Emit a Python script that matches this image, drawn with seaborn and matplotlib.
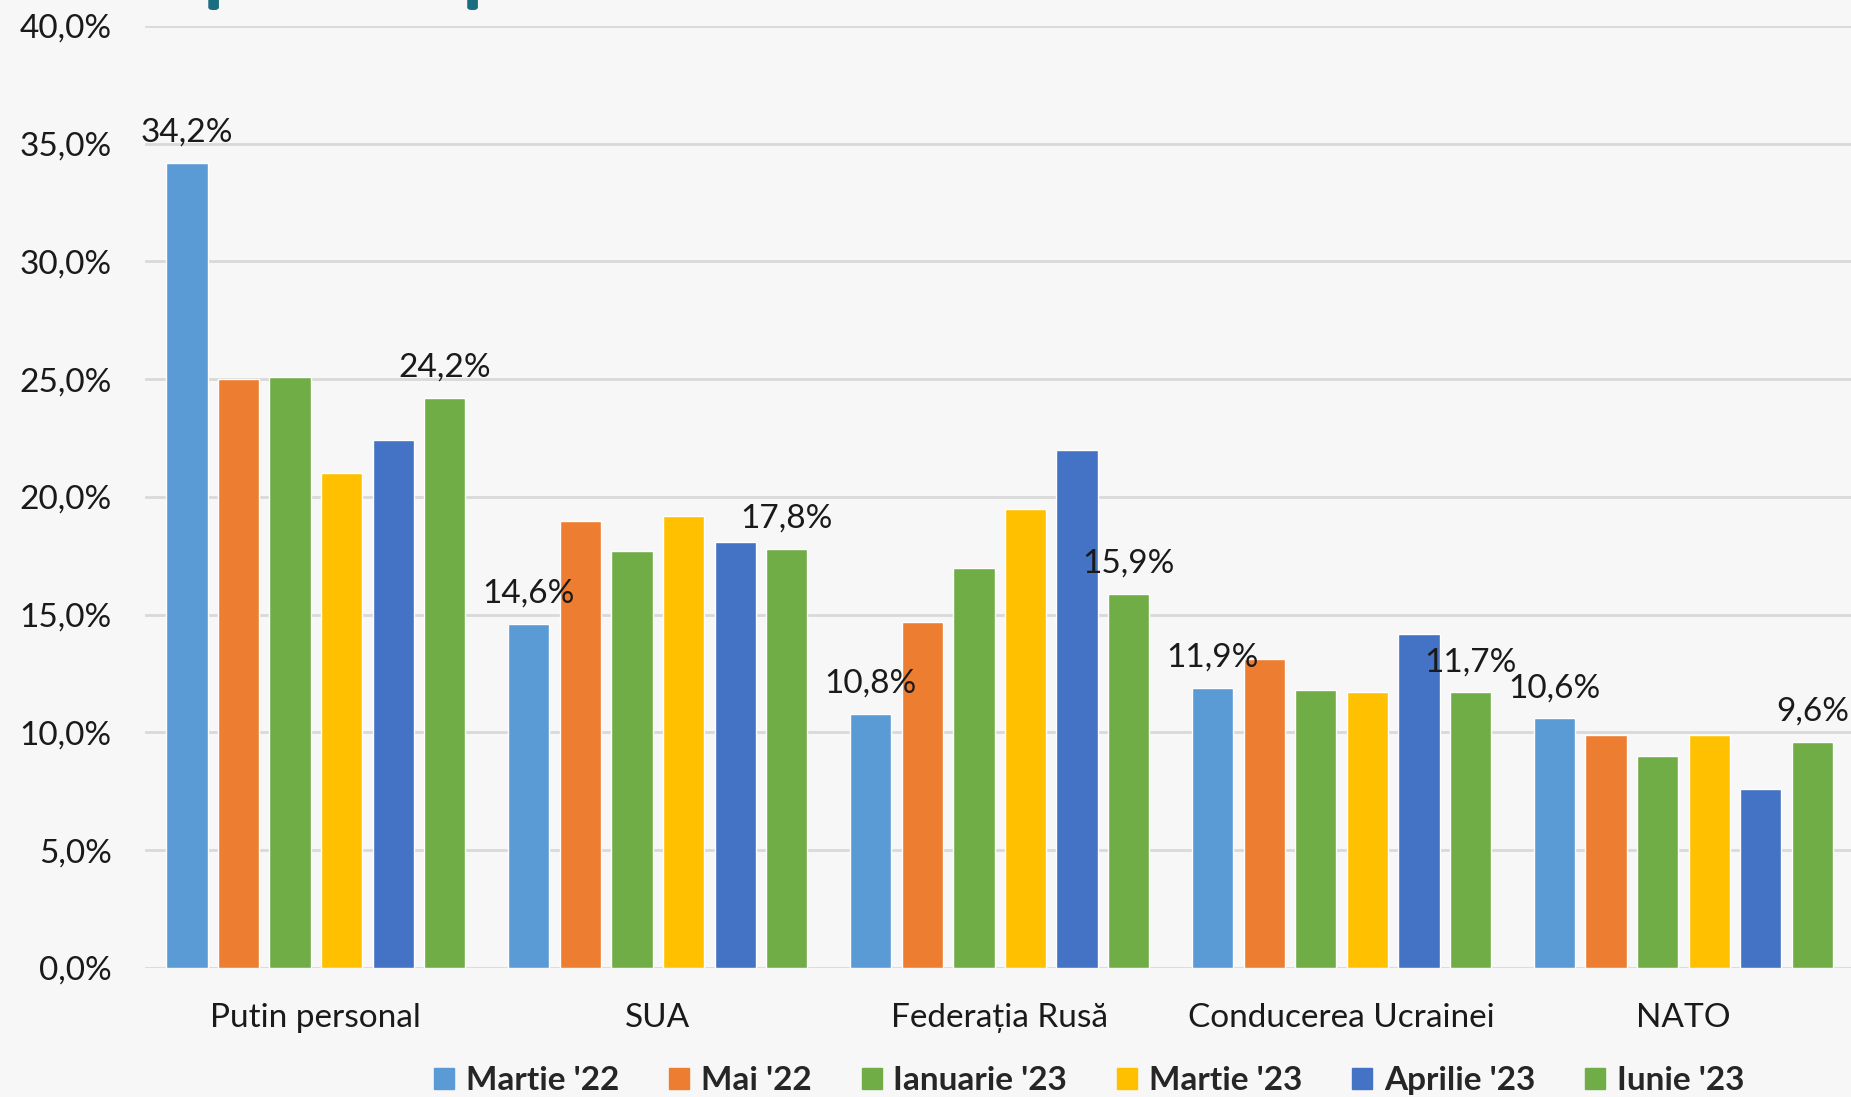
import matplotlib
matplotlib.use("Agg")
import matplotlib.pyplot as plt
import matplotlib.patches as mpatches
import pandas as pd
import seaborn as sns

# Data
categories = ["Putin personal", "SUA", "Federația Rusă", "Conducerea Ucrainei", "NATO"]
series = ["Martie '22", "Mai '22", "Ianuarie '23", "Martie '23", "Aprilie '23", "Iunie '23"]
martie_22 = [34.2, 14.6, 10.8, 11.9, 10.6]
mai_22 = [25.0, 19.0, 14.7, 13.1, 9.9]
ianuarie_23 = [25.1, 17.7, 17.0, 11.8, 9.0]
martie_23 = [21.0, 19.2, 19.5, 11.7, 9.9]
aprilie_23 = [22.4, 18.1, 22.0, 14.2, 7.6]
iunie_23 = [24.2, 17.8, 15.9, 11.7, 9.6]
colors = ["#5B9BD5", "#ED7D31", "#70AD47", "#FFC000", "#4472C4", "#70AD47"]
y_ticks = [0, 5, 10, 15, 20, 25, 30, 35, 40]

values = [martie_22, mai_22, ianuarie_23, martie_23, aprilie_23, iunie_23]
rows = []
for s, vals in zip(series, values):
    for c, v in zip(categories, vals):
        rows.append({"Categorie": c, "Perioada": s, "Valoare": v})
df = pd.DataFrame(rows)

sns.set_theme(style="white")
plt.rcParams["font.family"] = ["Lato", "DejaVu Sans"]
bg = "#f7f7f7"

fig = plt.figure(figsize=(18.51, 10.97), dpi=100, facecolor=bg)
ax = fig.add_axes([0.0783, 0.1176, 0.9217, 0.8587])
ax.set_facecolor(bg)

sns.barplot(data=df, x="Categorie", y="Valoare", hue="Perioada",
            order=categories, hue_order=series, palette=colors,
            width=0.905, gap=0.2, saturation=1, ax=ax, legend=True)

# data labels only for first and last series
def fmt(v):
    return f"{v:.1f}".replace(".", ",") + "%"

for idx in (0, len(series) - 1):
    cont = ax.containers[idx]
    ax.bar_label(cont, labels=[fmt(v) for v in values[idx]], padding=11,
                 fontsize=24, color="#1a1a1a")

ax.set_ylim(0, 40)
ax.set_xlim(-0.5, 4.49)
ax.set_yticks(y_ticks)
ax.set_yticklabels([f"{t:.1f}".replace(".", ",") + "%" for t in y_ticks])
ax.yaxis.grid(True, color="#d9d9d9", linewidth=2)
ax.set_axisbelow(True)
for sp in ax.spines.values():
    sp.set_visible(False)
ax.tick_params(axis="y", length=0, pad=24, labelsize=24, labelcolor="#1a1a1a")
ax.tick_params(axis="x", length=0, pad=25, labelsize=24, labelcolor="#1a1a1a")
ax.set_xlabel("")
ax.set_ylabel("")

ax.get_legend().remove()
handles = [mpatches.Patch(color=c) for c in colors]
fig.legend(handles, series, loc="center", bbox_to_anchor=(0.5885, 0.015),
           ncol=6, frameon=False, prop={"weight": "bold", "size": 24},
           handlelength=0.6, handleheight=0.6, handletextpad=0.35,
           columnspacing=1.5, borderaxespad=0, borderpad=0)

# small teal marks at the top edge (cropped header)
for x0 in (0.1129, 0.2528):
    fig.patches.append(mpatches.FancyBboxPatch(
        (x0, 0.9915), 0.005, 0.02, boxstyle="round,pad=0,rounding_size=0.002",
        transform=fig.transFigure, color="#1b6d80", clip_on=False))

fig.savefig("out.png", dpi=100, facecolor=bg)
